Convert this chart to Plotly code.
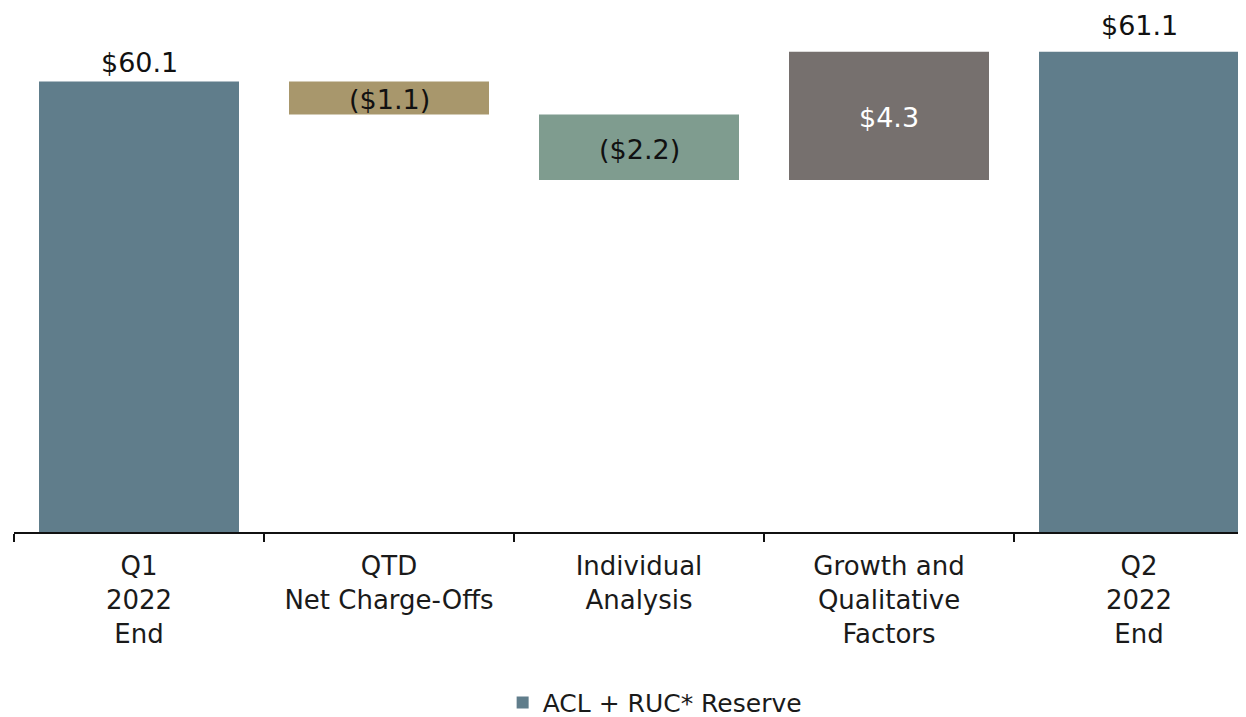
import plotly.graph_objects as go

categories = ["Q1<br>2022<br>End", "QTD<br>Net Charge-Offs", "Individual<br>Analysis",
              "Growth and<br>Qualitative<br>Factors", "Q2<br>2022<br>End"]
start_total = 60.1
changes = [-1.1, -2.2, 4.3]
end_total = 61.1
labels = ["$60.1", "($1.1)", "($2.2)", "$4.3", "$61.1"]
legend_name = "ACL + RUC* Reserve"

total_color = "#607D8B"
change_colors = ["#A8976C", "#7F9C8F", "#76706E"]
change_label_colors = ["#111111", "#111111", "#FFFFFF"]
FONT = "DejaVu Sans"
AXIS_MIN = 45

# waterfall bases
bases = []
level = start_total
for c in changes:
    new = level + c
    bases.append(min(level, new))
    level = new

fig = go.Figure()
fig.add_trace(go.Bar(
    x=[categories[0], categories[4]],
    y=[start_total - AXIS_MIN, end_total - AXIS_MIN],
    base=[AXIS_MIN, AXIS_MIN],
    marker=dict(color=total_color, line=dict(width=0)),
    width=0.8, name=legend_name, showlegend=True, hoverinfo="skip",
))
fig.add_trace(go.Bar(
    x=categories[1:4],
    y=[abs(c) for c in changes],
    base=bases,
    marker=dict(color=change_colors, line=dict(width=0)),
    width=0.8, showlegend=False, hoverinfo="skip",
))

annotations = []
annotations.append(dict(x=categories[0], y=start_total, text=labels[0], showarrow=False,
                        yanchor="bottom", yshift=2, font=dict(size=27, color="#111111", family=FONT)))
annotations.append(dict(x=categories[4], y=end_total, text=labels[4], showarrow=False,
                        yanchor="bottom", yshift=9, font=dict(size=27, color="#111111", family=FONT)))
for i, c in enumerate(changes):
    mid = bases[i] + abs(c) / 2
    annotations.append(dict(x=categories[i + 1], y=mid, text=labels[i + 1], showarrow=False,
                            yanchor="middle", yshift=-2,
                            font=dict(size=27, color=change_label_colors[i], family=FONT)))

# page body adds an 8px offset; figure sized to fit the 1246x717 window
fig.update_layout(
    width=1238, height=709,
    paper_bgcolor="white", plot_bgcolor="white",
    margin=dict(l=6, r=0, t=2, b=185, autoexpand=False),
    barmode="overlay",
    font=dict(family=FONT, size=26, color="#1a1a1a"),
    annotations=annotations,
    legend=dict(orientation="h", x=0.52, xanchor="center", y=-0.327, yanchor="middle",
                font=dict(size=25, color="#1a1a1a", family=FONT), itemwidth=30),
    xaxis=dict(type="category", categoryorder="array", categoryarray=categories,
               range=[-0.5, 4.5 - 18 / 250], showline=True, automargin=False,
               linecolor="#111111", linewidth=2, ticks="outside", tickson="boundaries",
               ticklen=8, tickwidth=2, tickcolor="#111111", showgrid=False,
               ticklabelstandoff=10,
               tickfont=dict(size=26, color="#1a1a1a", family=FONT)),
    yaxis=dict(range=[AXIS_MIN, AXIS_MIN + 522 / 29.83], visible=False, showgrid=False,
               automargin=False),
)

fig.write_html("out.html")
